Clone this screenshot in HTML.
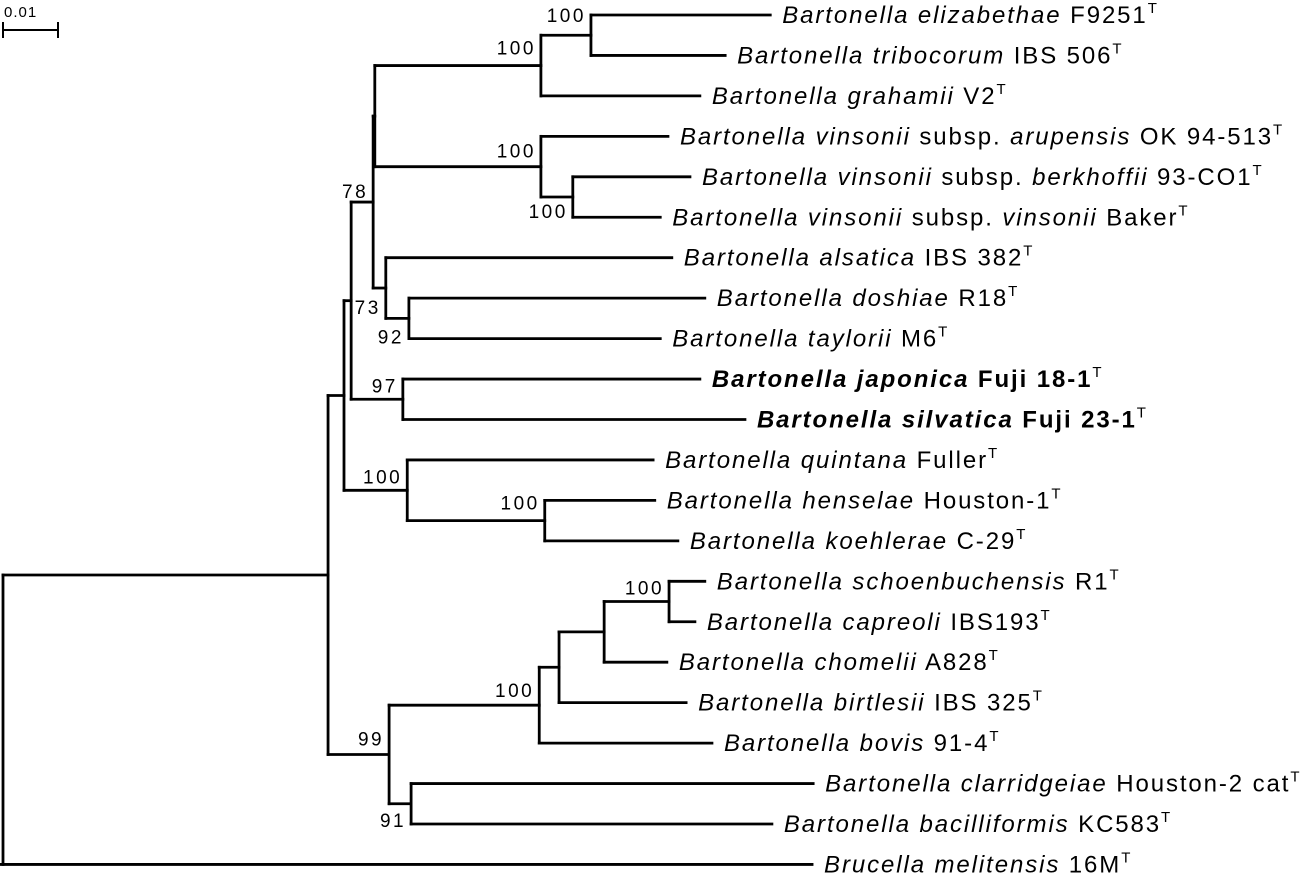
<!DOCTYPE html>
<html><head><meta charset="utf-8">
<style>
html,body{margin:0;padding:0;background:#fff;}
svg{display:block;}
text{font-family:"Liberation Sans",sans-serif;fill:#000;}
</style></head>
<body>
<svg id="tree" width="1302" height="877" viewBox="0 0 1302 877" xmlns="http://www.w3.org/2000/svg">
<g>
<text x="4" y="17" font-size="15" letter-spacing="1">0.01</text>
<path d="M3 30 H58 M3 22 V38 M58 22 V38" stroke="#000" stroke-width="2" fill="none"/>
</g>
<g id="branches" stroke="#000" stroke-width="2.8" fill="none" stroke-linecap="square"></g>
<g id="labels"></g>
</svg>
<script>
// Internal nodes (depth in substitutions per site)
const nodeIds      = ["root","n1","n2","n3","n4","nA","nEG","nET","nV","nVB","nAl","nDT","nJS","nQ","nHK","n99","nBo","nBi","nCh","nSC","n91"];
const nodeParents  = [null,"root","n1","n2","n3","n4","nA","nEG","nA","nV","n4","nAl","n3","n2","nQ","n1","n99","nBo","nBi","nCh","n99"];
const nodeDepths   = [0,0.0591,0.0620,0.0633,0.0673,0.0676,0.0978,0.1069,0.0978,0.1036,0.0696,0.0738,0.0727,0.0735,0.0985,0.0702,0.0975,0.1011,0.1093,0.1211,0.0742];
const nodeSupport  = ["","","","","78","","100","100","100","100","73","92","97","100","100","99","100","","","100","91"];

// Leaves (top to bottom)
const leafNames    = ["Bartonella elizabethae","Bartonella tribocorum","Bartonella grahamii","Bartonella vinsonii|subsp.|arupensis","Bartonella vinsonii|subsp.|berkhoffii","Bartonella vinsonii|subsp.|vinsonii","Bartonella alsatica","Bartonella doshiae","Bartonella taylorii","Bartonella japonica","Bartonella silvatica","Bartonella quintana","Bartonella henselae","Bartonella koehlerae","Bartonella schoenbuchensis","Bartonella capreoli","Bartonella chomelii","Bartonella birtlesii","Bartonella bovis","Bartonella clarridgeiae","Bartonella bacilliformis","Brucella melitensis"];
const leafStrains  = ["F9251","IBS 506","V2","OK 94-513","93-CO1","Baker","IBS 382","R18","M6","Fuji 18-1","Fuji 23-1","Fuller","Houston-1","C-29","R1","IBS193","A828","IBS 325","91-4","Houston-2 cat","KC583","16M"];
const leafParents  = ["nET","nET","nEG","nV","nVB","nVB","nAl","nDT","nDT","nJS","nJS","nQ","nHK","nHK","nSC","nSC","nCh","nBi","nBo","n91","n91","root"];
const leafDepths   = [0.1395,0.1313,0.1267,0.1209,0.1249,0.1195,0.1216,0.1276,0.1195,0.1267,0.1349,0.1182,0.1185,0.1227,0.1276,0.1258,0.1207,0.1242,0.1289,0.1473,0.1398,0.1471];
const leafBold     = [0,0,0,0,0,0,0,0,0,1,1,0,0,0,0,0,0,0,0,0,0,0];

// label placement (styling)
const supDY = {n4:-4,nEG:-11,nET:-13,nV:-9,nVB:21,nAl:26,nDT:25,nJS:-7,nQ:-7,nHK:-11,n99:-9,nBo:-8,nSC:-7,n91:23};

const xScale = d => 3 + d*5500;
const yLeaf = i => 15 + i*40.45;
const NS="http://www.w3.org/2000/svg";
const br=document.getElementById('branches'), lb=document.getElementById('labels');

const ys={}, kids={};
nodeIds.forEach(id=>kids[id]=[]);
nodeIds.forEach((id,i)=>{ if(nodeParents[i]) kids[nodeParents[i]].push({t:'n',id}); });
leafNames.forEach((n,i)=>kids[leafParents[i]].push({t:'l',i}));
function yOf(k){ return k.t==='l'? yLeaf(k.i) : nodeY(k.id); }
function nodeY(id){
  if(ys[id]!==undefined) return ys[id];
  const v=kids[id].map(yOf);
  ys[id]=(Math.min(...v)+Math.max(...v))/2;
  return ys[id];
}
nodeIds.forEach(nodeY);
const depthOf={}; nodeIds.forEach((id,i)=>depthOf[id]=nodeDepths[i]);

function line(d,name){
  const p=document.createElementNS(NS,'path');
  p.setAttribute('d',d);
  
  
  br.appendChild(p);
}
nodeIds.forEach(id=>{
  const v=kids[id].map(yOf), x=xScale(depthOf[id]);
  line(`M${x} ${Math.min(...v)} V${Math.max(...v)}`, 'node-'+id+'-vertical');
});
nodeIds.forEach((id,i)=>{
  const par=nodeParents[i]; if(!par) return;
  line(`M${xScale(depthOf[par])} ${ys[id]} H${xScale(depthOf[id])}`,'branch-'+id);
});
leafNames.forEach((n,i)=>{
  const par=leafParents[i];
  const x1=xScale(depthOf[par]), x2=xScale(leafDepths[i]), y=yLeaf(i);
  line(`M${par==='root'?0:x1} ${y} H${x2}`,'branch-leaf-'+i);
  const t=document.createElementNS(NS,'text');
  t.setAttribute('x',x2+12); t.setAttribute('y',y+8);
  t.setAttribute('font-size','24');
  t.setAttribute('letter-spacing','1.9');
  
  
  const parts=n.split('|');
  parts.forEach((p,j)=>{
    const s=document.createElementNS(NS,'tspan');
    if(j!==1){ s.setAttribute('font-style','italic'); }
    if(leafBold[i]) s.setAttribute('font-weight','bold');
    s.textContent=(j>0?' ':'')+p;
    t.appendChild(s);
  });
  const s2=document.createElementNS(NS,'tspan'); s2.textContent=' '+leafStrains[i];
  if(leafBold[i]) s2.setAttribute('font-weight','bold');
  t.appendChild(s2);
  const s3=document.createElementNS(NS,'tspan'); s3.textContent='T';
  s3.setAttribute('font-size','15'); s3.setAttribute('dy','-10'); t.appendChild(s3);
  lb.appendChild(t);
});
nodeIds.forEach((id,i)=>{
  if(!nodeSupport[i]) return;
  const t=document.createElementNS(NS,'text');
  t.setAttribute('x',xScale(depthOf[id])-5);
  t.setAttribute('y',ys[id]+(supDY[id]||-8));
  t.setAttribute('font-size','19');
  t.setAttribute('letter-spacing','2.5');
  t.setAttribute('text-anchor','end');
  
  
  t.textContent=nodeSupport[i];
  lb.appendChild(t);
});
</script>
</body></html>
